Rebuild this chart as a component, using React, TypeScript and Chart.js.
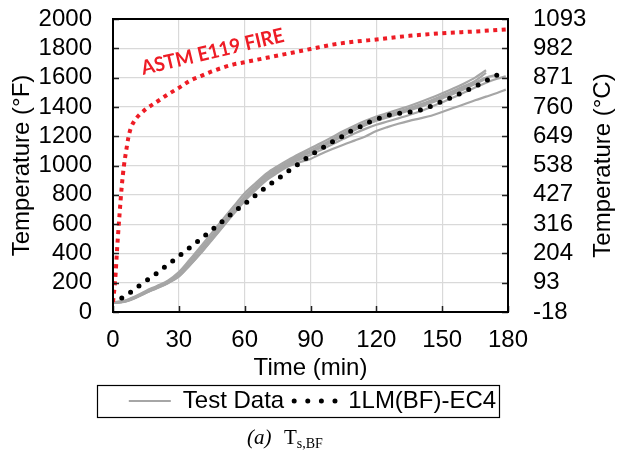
import React, { useEffect, useRef } from 'react';
import { Chart, registerables } from 'chart.js';

Chart.register(...registerables);

// ---------- data ----------
const X_MIN = 0;
const X_MAX = 180;
const X_STEP = 30;
const Y_MIN = 0;
const Y_MAX = 2000;
const Y_STEP = 200;

const ASTM_TIME = [0, 1, 2, 3, 4, 5, 6, 7, 8, 10, 12, 15, 20, 25, 30, 35, 40, 45, 50, 55, 60, 70, 80, 90, 100, 110, 120, 135, 150, 165, 180];
const ASTM_TEMP = [68, 220, 460, 670, 860, 1000, 1100, 1190, 1250, 1310, 1345, 1385, 1435, 1485, 1530, 1578, 1610, 1642, 1668, 1690, 1705, 1735, 1765, 1795, 1825, 1845, 1860, 1885, 1903, 1915, 1930];

const MODEL_TIME = [4, 8, 12, 16, 20, 24, 28, 32, 36, 40, 44, 48, 52, 56, 60, 64, 68, 72, 76, 80, 84, 88, 92, 96, 100, 104, 108, 112, 116, 120, 124, 128, 132, 136, 140, 144, 148, 152, 156, 160, 164, 168, 172, 175];
const MODEL_TEMP = [96, 135, 180, 222, 265, 312, 358, 405, 452, 498, 548, 595, 645, 693, 738, 785, 832, 876, 918, 962, 1005, 1048, 1088, 1125, 1162, 1195, 1232, 1260, 1292, 1315, 1336, 1351, 1360, 1367, 1378, 1399, 1425, 1449, 1476, 1503, 1532, 1562, 1594, 1617];

const TEST_TIME = [0, 5, 10, 15, 20, 25, 30, 35, 40, 45, 50, 55, 60, 65, 70, 75, 80, 85, 90, 95, 100, 105, 110, 115, 120, 125, 130, 135, 140, 145, 150, 155, 160, 165, 170, 175, 179];
const TEST_A = [66, 76, 106, 144, 178, 214, 272, 358, 448, 540, 632, 722, 810, 880, 946, 996, 1040, 1080, 1118, 1155, 1195, 1235, 1272, 1305, 1334, 1358, 1382, 1406, 1433, 1462, 1493, 1525, 1560, 1600, 1650];
const TEST_B = [65, 74, 103, 140, 173, 208, 262, 344, 430, 520, 612, 702, 790, 864, 933, 983, 1028, 1068, 1103, 1140, 1180, 1220, 1257, 1290, 1320, 1344, 1368, 1392, 1418, 1446, 1477, 1508, 1542, 1578, 1632];
const TEST_C = [64, 72, 100, 137, 170, 204, 255, 335, 420, 510, 602, 692, 780, 855, 925, 975, 1020, 1060, 1095, 1132, 1172, 1212, 1248, 1282, 1312, 1336, 1360, 1384, 1408, 1436, 1466, 1497, 1530, 1565, 1600, 1620];
const TEST_D = [63, 70, 97, 133, 166, 200, 248, 325, 410, 500, 590, 680, 770, 846, 916, 968, 1012, 1052, 1088, 1124, 1163, 1203, 1240, 1274, 1305, 1328, 1352, 1376, 1400, 1428, 1458, 1488, 1520, 1556, 1592];
const TEST_E = [63, 70, 96, 132, 164, 198, 244, 320, 404, 494, 585, 675, 764, 840, 910, 962, 1005, 1040, 1072, 1108, 1145, 1182, 1218, 1250, 1278, 1300, 1322, 1345, 1370, 1400, 1432, 1464, 1498, 1532, 1565, 1592, 1608];
const TEST_F = [62, 68, 94, 130, 162, 196, 242, 318, 400, 490, 580, 670, 758, 832, 900, 950, 995, 1022, 1045, 1080, 1112, 1142, 1170, 1198, 1235, 1262, 1285, 1305, 1322, 1340, 1365, 1392, 1418, 1445, 1470, 1495, 1518];
const TEST_SERIES = [TEST_A, TEST_B, TEST_C, TEST_D, TEST_E, TEST_F];

const LEGEND_TEST = 'Test Data';
const LEGEND_MODEL = '1LM(BF)-EC4';
const FIRE_LABEL = 'ASTM E119 FIRE';
const FIRE_LABEL_AT = { x: 13.7, y: 1618 };
const X_TITLE = 'Time (min)';
const Y_TITLE = 'Temperature (°F)';
const Y2_TITLE = 'Temperature (°C)';

// ---------- styles ----------
const SANS = "'Liberation Sans', Arial, sans-serif";
const SERIF = "'Liberation Serif', 'Times New Roman', serif";
const GRAY = '#a6a6a6';
const RED = '#ee1c25';
const GRID = '#d9d9d9';
const PAD_LEFT = 8;

const zip = (xs: number[], ys: number[]) => ys.map((y, i) => ({ x: xs[i], y }));
const fToC = (f: number) => Math.round(((f - 32) * 5) / 9);

const noPad = (s: any) => {
  s.paddingTop = 0;
  s.paddingBottom = 0;
  s.paddingLeft = 0;
  s.paddingRight = 0;
};

const decorPlugin = {
  id: 'decor',
  afterDatasetsDraw(chart: any) {
    const { ctx, scales } = chart;
    const px = scales.x.getPixelForValue(FIRE_LABEL_AT.x);
    const py = scales.y.getPixelForValue(FIRE_LABEL_AT.y);
    ctx.save();
    ctx.translate(px, py);
    ctx.rotate((-13.3 * Math.PI) / 180);
    ctx.fillStyle = RED;
    ctx.font = "bold 20px Lato, 'Liberation Sans', sans-serif";
    ctx.textAlign = 'left';
    ctx.textBaseline = 'alphabetic';
    ctx.fillText(FIRE_LABEL, 0, 0, 146);
    ctx.restore();
  },
  afterDraw(chart: any) {
    const { ctx, chartArea: a, scales } = chart;
    ctx.save();
    // inner tick marks
    ctx.strokeStyle = '#222';
    ctx.lineWidth = 1.5;
    ctx.beginPath();
    scales.y.ticks.forEach((t: any) => {
      const yy = Math.round(scales.y.getPixelForValue(t.value)) + 0.5;
      ctx.moveTo(a.left, yy);
      ctx.lineTo(a.left + 6, yy);
      ctx.moveTo(a.right - 6, yy);
      ctx.lineTo(a.right, yy);
    });
    scales.x.ticks.forEach((t: any) => {
      const xx = Math.round(scales.x.getPixelForValue(t.value)) + 0.5;
      ctx.moveTo(xx, a.bottom);
      ctx.lineTo(xx, a.bottom - 6);
    });
    ctx.stroke();
    // frame
    ctx.strokeStyle = '#000';
    ctx.lineWidth = 2;
    ctx.strokeRect(a.left, a.top, a.right - a.left, a.bottom - a.top);

    // right axis title (reads bottom-to-top)
    ctx.fillStyle = '#000';
    ctx.font = `24px ${SANS}`;
    ctx.textAlign = 'center';
    ctx.textBaseline = 'middle';
    ctx.save();
    ctx.translate(chart.width - 14, (a.top + a.bottom) / 2);
    ctx.rotate(-Math.PI / 2);
    ctx.fillText(Y2_TITLE, 0, 0);
    ctx.restore();

    // legend border
    const hb = chart.legend && chart.legend.legendHitBoxes;
    let capY = chart.height - 30;
    if (hb && hb.length) {
      const first = hb[0];
      const last = hb[hb.length - 1];
      const l = first.left - 32;
      const r = last.left + last.width + 3;
      const t = first.top - 4;
      const b = first.top + first.height + 4;
      ctx.strokeStyle = '#000';
      ctx.lineWidth = 1.2;
      ctx.strokeRect(Math.round(l) + 0.5, Math.round(t) + 0.5, Math.round(r - l), Math.round(b - t));
      capY = b + 27;
    }

    // caption
    ctx.textAlign = 'left';
    ctx.textBaseline = 'alphabetic';
    ctx.fillStyle = '#000';
    ctx.font = `italic 21px ${SERIF}`;
    const capX = 247;
    ctx.fillText('(a)', capX, capY);
    ctx.font = `21px ${SERIF}`;
    const tX = capX + 37;
    ctx.fillText('T', tX, capY);
    const tW = ctx.measureText('T').width;
    ctx.font = `14px ${SERIF}`;
    ctx.fillText('s,BF', tX + tW, capY + 4);
    ctx.restore();
  },
};

export default function App() {
  const ref = useRef<HTMLCanvasElement | null>(null);

  useEffect(() => {
    if (!ref.current) return;
    const font = { family: SANS, size: 24 };

    const testSets = TEST_SERIES.map((vals, i) => ({
      label: i === 0 ? LEGEND_TEST : `${LEGEND_TEST} ${i + 1}`,
      data: zip(TEST_TIME, vals),
      borderColor: GRAY,
      backgroundColor: GRAY,
      borderWidth: 2.2,
      pointRadius: 0,
      cubicInterpolationMode: 'monotone' as const,
      yAxisID: 'y',
      order: 3,
    }));

    const chart = new Chart(ref.current, {
      type: 'line',
      data: {
        datasets: [
          ...testSets,
          {
            label: 'ASTM E119 FIRE',
            data: zip(ASTM_TIME, ASTM_TEMP),
            borderColor: RED,
            backgroundColor: RED,
            borderWidth: 4,
            borderDash: [4, 4.5],
            borderCapStyle: 'butt',
            pointRadius: 0,
            cubicInterpolationMode: 'monotone',
            yAxisID: 'y',
            order: 2,
          },
          {
            label: LEGEND_MODEL,
            data: zip(MODEL_TIME, MODEL_TEMP),
            borderColor: '#000',
            backgroundColor: '#000',
            borderWidth: 5,
            borderDash: [0, 10.5],
            borderCapStyle: 'round',
            pointRadius: 0,
            cubicInterpolationMode: 'monotone',
            yAxisID: 'y',
            order: 1,
          },
        ],
      },
      options: {
        responsive: true,
        maintainAspectRatio: false,
        animation: false,
        layout: { padding: { top: 19, bottom: 49, left: PAD_LEFT, right: 0 } },
        plugins: {
          tooltip: { enabled: false },
          legend: {
            position: 'bottom',
            labels: {
              font,
              color: '#000',
              usePointStyle: true,
              pointStyleWidth: 42,
              padding: 10,
              generateLabels: () => [
                {
                  text: LEGEND_TEST,
                  fillStyle: GRAY,
                  strokeStyle: GRAY,
                  lineWidth: 2,
                  pointStyle: 'line',
                  lineDash: [],
                  lineCap: 'butt',
                  hidden: false,
                  datasetIndex: 0,
                  fontColor: '#000',
                } as any,
                {
                  text: LEGEND_MODEL,
                  fillStyle: '#000',
                  strokeStyle: '#000',
                  lineWidth: 5,
                  pointStyle: 'line',
                  lineDash: [0, 13.6],
                  lineCap: 'round',
                  hidden: false,
                  datasetIndex: TEST_SERIES.length + 1,
                  fontColor: '#000',
                } as any,
              ],
            },
          },
        },
        scales: {
          x: {
            type: 'linear',
            min: X_MIN,
            max: X_MAX,
            ticks: { stepSize: X_STEP, font, color: '#000', padding: 14, maxRotation: 0, autoSkip: false, callback: (v: any) => String(v) },
            grid: { color: GRID, drawTicks: false, lineWidth: 1.2 },
            border: { display: false },
            title: { display: true, text: X_TITLE, font, color: '#000', padding: { top: 0, bottom: -4 } },
            afterFit: (s: any) => {
              s.height = 67;
              noPad(s);
            },
          },
          y: {
            type: 'linear',
            position: 'left',
            min: Y_MIN,
            max: Y_MAX,
            ticks: { stepSize: Y_STEP, font, color: '#000', padding: 21, autoSkip: false, callback: (v: any) => String(v) },
            grid: { color: GRID, drawTicks: false, lineWidth: 1.2 },
            border: { display: false },
            title: { display: true, text: Y_TITLE, font, color: '#000', padding: { top: 0, bottom: 0 } },
            afterFit: (s: any) => {
              s.width = 113 - PAD_LEFT;
              noPad(s);
            },
          },
          y2: {
            type: 'linear',
            position: 'right',
            min: Y_MIN,
            max: Y_MAX,
            ticks: { stepSize: Y_STEP, font, color: '#000', padding: 25, autoSkip: false, callback: (v: any) => String(fToC(Number(v))) },
            grid: { display: false, drawTicks: false },
            border: { display: false },
            afterFit: (s: any) => {
              s.width = 109;
              noPad(s);
            },
          },
        },
      },
      plugins: [decorPlugin],
    });

    return () => chart.destroy();
  }, []);

  return (
    <div style={{ position: 'fixed', left: 0, top: 0, width: 617, height: 472, background: '#fff' }}>
      <canvas ref={ref} style={{ display: 'block' }} />
    </div>
  );
}
